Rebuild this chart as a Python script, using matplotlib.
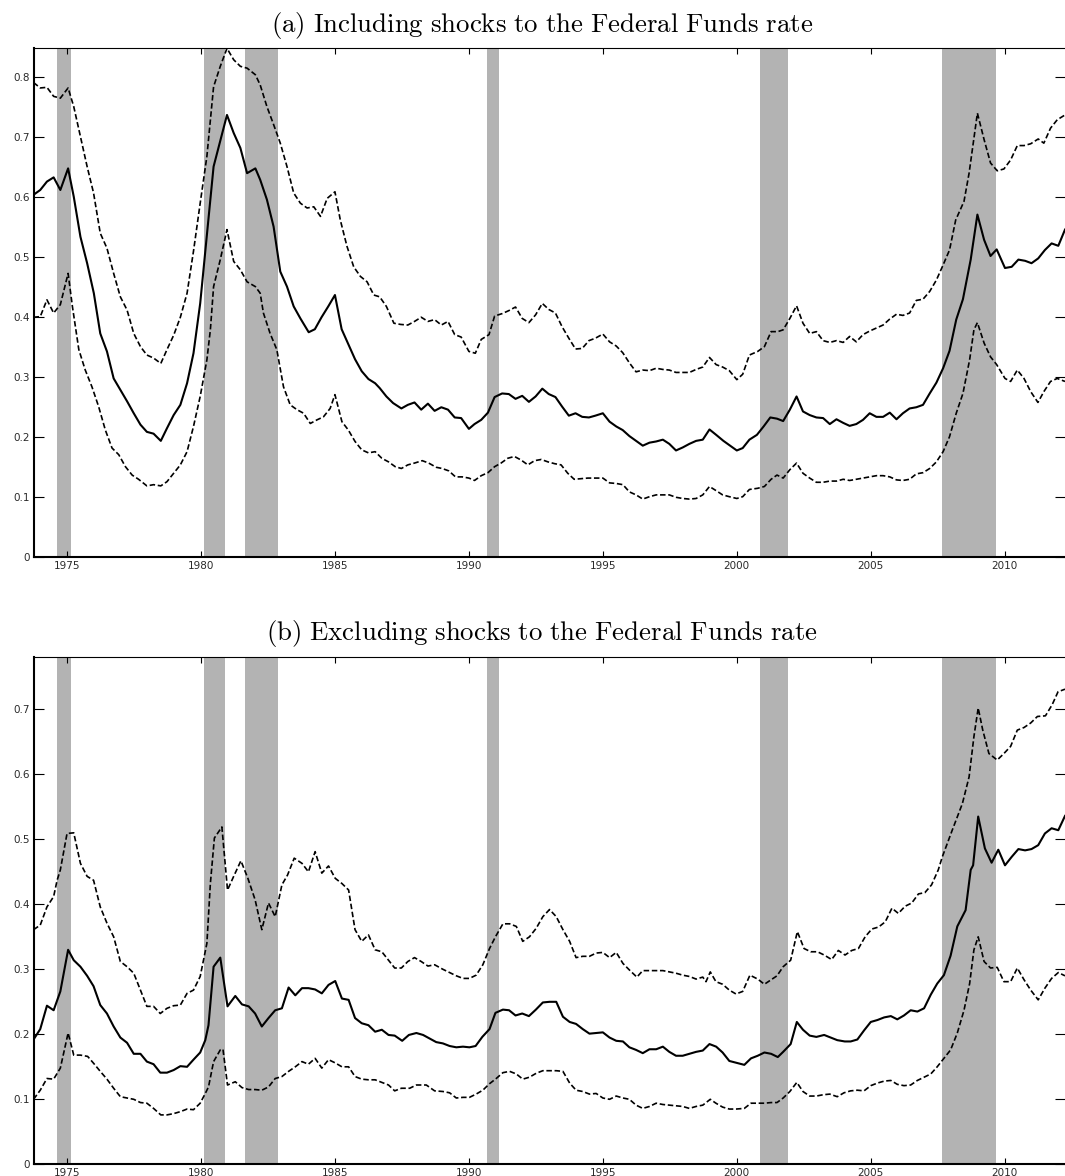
import numpy as np
import matplotlib
matplotlib.use("Agg")
import matplotlib.pyplot as plt

plt.rcParams['mathtext.fontset'] = 'cm'
plt.rcParams['font.family'] = ['DejaVu Sans']

# Recession periods (shaded)
rec_start = [1974.64, 1980.13, 1981.63, 1990.66, 2000.88, 2007.66]
rec_end = [1975.16, 1980.91, 1982.89, 1991.14, 2001.91, 2009.67]

# ---- Panel (a): including shocks to the Federal Funds rate ----
a_mid_t = [1973.75, 1974.0, 1974.25, 1974.5, 1974.75, 1975.04, 1975.25, 1975.5, 1975.75, 1976.0,
           1976.24, 1976.49, 1976.74, 1976.99, 1977.24, 1977.49, 1977.74, 1977.98, 1978.23, 1978.5,
           1978.73, 1978.98, 1979.23, 1979.48, 1979.72, 1979.97, 1980.47, 1980.97, 1981.22, 1981.47,
           1981.72, 1982.03, 1982.21, 1982.46, 1982.71, 1982.96, 1983.21, 1983.46, 1983.71, 1984.02,
           1984.25, 1984.5, 1984.75, 1985.0, 1985.25, 1985.5, 1985.75, 1986.0, 1986.25, 1986.5,
           1986.67, 1986.92, 1987.17, 1987.48, 1987.72, 1987.97, 1988.22, 1988.47, 1988.72, 1988.97,
           1989.22, 1989.47, 1989.71, 1990.0, 1990.21, 1990.46, 1990.71, 1990.96, 1991.24, 1991.49,
           1991.74, 1991.99, 1992.24, 1992.49, 1992.74, 1992.98, 1993.23, 1993.48, 1993.73, 1993.98,
           1994.23, 1994.48, 1994.72, 1995.0, 1995.25, 1995.5, 1995.74, 1995.99, 1996.24, 1996.49,
           1996.74, 1996.99, 1997.24, 1997.48, 1997.73, 1997.98, 1998.23, 1998.48, 1998.73, 1998.98,
           1999.23, 1999.5, 1999.75, 2000.0, 2000.22, 2000.47, 2000.75, 2001.0, 2001.25, 2001.5,
           2001.73, 2001.98, 2002.23, 2002.47, 2002.72, 2002.97, 2003.22, 2003.47, 2003.72, 2003.97,
           2004.21, 2004.46, 2004.71, 2004.96, 2005.21, 2005.46, 2005.71, 2005.96, 2006.2, 2006.45,
           2006.7, 2006.95, 2007.2, 2007.45, 2007.7, 2007.94, 2008.19, 2008.44, 2008.73, 2008.98,
           2009.23, 2009.47, 2009.7, 2010.01, 2010.26, 2010.51, 2010.76, 2011.0, 2011.25, 2011.5,
           2011.75, 2012.0, 2012.25]
a_mid_v = [0.604, 0.612, 0.626, 0.633, 0.612, 0.648, 0.601, 0.534, 0.49, 0.44,
           0.373, 0.343, 0.298, 0.279, 0.26, 0.24, 0.221, 0.209, 0.206, 0.194,
           0.215, 0.237, 0.254, 0.29, 0.34, 0.423, 0.651, 0.737, 0.707, 0.682,
           0.64, 0.648, 0.629, 0.596, 0.551, 0.476, 0.451, 0.418, 0.398, 0.375,
           0.38, 0.40, 0.418, 0.437, 0.38, 0.355, 0.33, 0.31, 0.297, 0.29,
           0.282, 0.268, 0.257, 0.248, 0.254, 0.258, 0.246, 0.256, 0.244, 0.25,
           0.246, 0.233, 0.232, 0.214, 0.222, 0.229, 0.241, 0.267, 0.273, 0.272,
           0.264, 0.269, 0.259, 0.268, 0.281, 0.272, 0.267, 0.251, 0.236, 0.24,
           0.234, 0.233, 0.236, 0.24, 0.226, 0.218, 0.212, 0.202, 0.194, 0.186,
           0.191, 0.193, 0.196, 0.189, 0.178, 0.183, 0.189, 0.194, 0.196, 0.213,
           0.204, 0.194, 0.186, 0.178, 0.182, 0.196, 0.204, 0.218, 0.233, 0.231,
           0.227, 0.246, 0.268, 0.243, 0.237, 0.233, 0.232, 0.222, 0.23, 0.224,
           0.219, 0.222, 0.229, 0.24, 0.234, 0.234, 0.241, 0.23, 0.24, 0.248,
           0.25, 0.254, 0.273, 0.291, 0.315, 0.344, 0.396, 0.43, 0.496, 0.571,
           0.529, 0.502, 0.513, 0.482, 0.484, 0.496, 0.494, 0.49, 0.498, 0.512,
           0.523, 0.519, 0.546]

a_hi_t = [1973.75, 1974.0, 1974.25, 1974.5, 1974.75, 1975.04, 1975.25, 1975.5, 1975.75, 1975.99,
          1976.24, 1976.49, 1976.74, 1976.99, 1977.24, 1977.49, 1977.74, 1977.98, 1978.23, 1978.5,
          1978.73, 1978.98, 1979.23, 1979.48, 1979.72, 1979.97, 1980.22, 1980.47, 1980.72, 1980.97,
          1981.22, 1981.47, 1981.72, 1982.03, 1982.21, 1982.46, 1982.71, 1982.96, 1983.21, 1983.46,
          1983.71, 1983.96, 1984.21, 1984.46, 1984.71, 1985.0, 1985.2, 1985.45, 1985.7, 1985.95,
          1986.2, 1986.45, 1986.67, 1986.92, 1987.2, 1987.45, 1987.72, 1987.97, 1988.22, 1988.47,
          1988.72, 1988.97, 1989.22, 1989.47, 1989.71, 1990.0, 1990.24, 1990.46, 1990.75, 1990.96,
          1991.24, 1991.49, 1991.74, 1991.99, 1992.24, 1992.49, 1992.74, 1992.98, 1993.23, 1993.48,
          1993.73, 1993.98, 1994.23, 1994.48, 1994.72, 1995.0, 1995.25, 1995.5, 1995.74, 1995.99,
          1996.24, 1996.49, 1996.74, 1996.99, 1997.24, 1997.48, 1997.73, 1997.98, 1998.23, 1998.48,
          1998.73, 1998.98, 1999.23, 1999.47, 1999.72, 2000.0, 2000.22, 2000.47, 2000.78, 2001.03,
          2001.28, 2001.53, 2001.73, 2001.98, 2002.23, 2002.47, 2002.72, 2002.97, 2003.22, 2003.47,
          2003.72, 2003.97, 2004.21, 2004.46, 2004.71, 2004.96, 2005.21, 2005.46, 2005.71, 2005.96,
          2006.2, 2006.45, 2006.7, 2006.95, 2007.2, 2007.45, 2007.67, 2007.94, 2008.17, 2008.48,
          2008.67, 2008.98, 2009.23, 2009.47, 2009.72, 2009.97, 2010.22, 2010.47, 2010.72, 2010.97,
          2011.25, 2011.46, 2011.71, 2011.96, 2012.25]
a_hi_v = [0.791, 0.782, 0.783, 0.768, 0.765, 0.782, 0.751, 0.701, 0.651, 0.607,
          0.54, 0.515, 0.473, 0.434, 0.412, 0.373, 0.351, 0.337, 0.332, 0.323,
          0.346, 0.37, 0.40, 0.44, 0.51, 0.59, 0.668, 0.784, 0.818, 0.848,
          0.829, 0.818, 0.815, 0.804, 0.787, 0.751, 0.721, 0.69, 0.651, 0.607,
          0.59, 0.582, 0.584, 0.568, 0.598, 0.609, 0.562, 0.518, 0.484, 0.468,
          0.459, 0.437, 0.434, 0.418, 0.39, 0.388, 0.387, 0.393, 0.4, 0.393,
          0.396, 0.387, 0.393, 0.371, 0.367, 0.343, 0.34, 0.363, 0.371, 0.402,
          0.406, 0.411, 0.417, 0.398, 0.391, 0.404, 0.423, 0.413, 0.407, 0.384,
          0.365, 0.347, 0.348, 0.361, 0.365, 0.372, 0.359, 0.352, 0.341, 0.324,
          0.309, 0.312, 0.311, 0.315, 0.313, 0.312, 0.308, 0.308, 0.308, 0.313,
          0.317, 0.333, 0.321, 0.317, 0.311, 0.296, 0.305, 0.337, 0.343, 0.351,
          0.376, 0.376, 0.379, 0.398, 0.419, 0.39, 0.373, 0.376, 0.361, 0.358,
          0.361, 0.358, 0.368, 0.359, 0.371, 0.377, 0.382, 0.387, 0.397, 0.405,
          0.403, 0.407, 0.428, 0.43, 0.443, 0.462, 0.484, 0.512, 0.562, 0.593,
          0.64, 0.74, 0.696, 0.657, 0.644, 0.647, 0.662, 0.686, 0.686, 0.689,
          0.697, 0.69, 0.715, 0.729, 0.737]

a_lo_t = [1973.75, 1974.0, 1974.25, 1974.5, 1974.75, 1975.04, 1975.2, 1975.44, 1975.68, 1975.93,
          1976.18, 1976.43, 1976.68, 1976.93, 1977.18, 1977.43, 1977.67, 1977.98, 1978.23, 1978.5,
          1978.73, 1978.98, 1979.23, 1979.48, 1979.72, 1979.97, 1980.22, 1980.35, 1980.47, 1980.72,
          1980.97, 1981.22, 1981.47, 1981.72, 1982.03, 1982.21, 1982.33, 1982.58, 1982.83, 1983.08,
          1983.33, 1983.58, 1983.83, 1984.08, 1984.33, 1984.57, 1984.82, 1985.0, 1985.26, 1985.5,
          1985.75, 1986.0, 1986.25, 1986.5, 1986.75, 1987.0, 1987.25, 1987.48, 1987.72, 1987.97,
          1988.26, 1988.5, 1988.78, 1989.0, 1989.25, 1989.5, 1989.75, 1990.0, 1990.21, 1990.46,
          1990.71, 1990.96, 1991.2, 1991.45, 1991.7, 1991.95, 1992.2, 1992.45, 1992.7, 1992.95,
          1993.2, 1993.44, 1993.69, 1993.93, 1994.18, 1994.44, 1994.75, 1995.0, 1995.25, 1995.5,
          1995.75, 1995.99, 1996.24, 1996.49, 1996.74, 1996.99, 1997.24, 1997.48, 1997.73, 1997.98,
          1998.23, 1998.48, 1998.73, 1998.98, 1999.23, 1999.47, 1999.72, 2000.0, 2000.22, 2000.47,
          2000.78, 2001.03, 2001.28, 2001.5, 2001.73, 2001.98, 2002.23, 2002.47, 2002.72, 2002.97,
          2003.22, 2003.47, 2003.72, 2003.97, 2004.21, 2004.46, 2004.71, 2004.96, 2005.21, 2005.46,
          2005.71, 2005.96, 2006.2, 2006.45, 2006.7, 2006.95, 2007.2, 2007.45, 2007.7, 2007.94,
          2008.19, 2008.44, 2008.69, 2008.85, 2008.98, 2009.23, 2009.47, 2009.7, 2010.01, 2010.22,
          2010.47, 2010.72, 2010.97, 2011.24, 2011.46, 2011.71, 2011.96, 2012.25]
a_lo_v = [0.4, 0.401, 0.429, 0.407, 0.421, 0.473, 0.418, 0.346, 0.312, 0.284,
          0.251, 0.212, 0.182, 0.171, 0.151, 0.137, 0.13, 0.119, 0.121, 0.119,
          0.126, 0.14, 0.154, 0.176, 0.218, 0.268, 0.329, 0.379, 0.451, 0.496,
          0.546, 0.493, 0.479, 0.459, 0.451, 0.44, 0.407, 0.373, 0.346, 0.284,
          0.254, 0.246, 0.24, 0.223, 0.229, 0.234, 0.248, 0.271, 0.226, 0.212,
          0.193, 0.179, 0.174, 0.176, 0.165, 0.159, 0.151, 0.148, 0.154, 0.157,
          0.161, 0.157, 0.15, 0.148, 0.144, 0.134, 0.134, 0.132, 0.128, 0.136,
          0.141, 0.151, 0.157, 0.165, 0.168, 0.162, 0.154, 0.161, 0.163, 0.159,
          0.156, 0.154, 0.14, 0.13, 0.131, 0.132, 0.132, 0.132, 0.124, 0.123,
          0.121, 0.109, 0.104, 0.097, 0.101, 0.104, 0.104, 0.104, 0.1, 0.098,
          0.097, 0.098, 0.104, 0.118, 0.111, 0.104, 0.101, 0.098, 0.101, 0.113,
          0.115, 0.118, 0.13, 0.137, 0.132, 0.146, 0.157, 0.14, 0.132, 0.125,
          0.125, 0.127, 0.127, 0.13, 0.128, 0.13, 0.132, 0.134, 0.136, 0.136,
          0.134, 0.129, 0.128, 0.13, 0.139, 0.141, 0.148, 0.159, 0.176, 0.201,
          0.24, 0.273, 0.329, 0.379, 0.391, 0.357, 0.334, 0.321, 0.298, 0.293,
          0.312, 0.298, 0.276, 0.258, 0.276, 0.293, 0.298, 0.293]

# ---- Panel (b): excluding shocks to the Federal Funds rate ----
b_mid_t = [1973.75, 1974.0, 1974.25, 1974.5, 1974.75, 1975.04, 1975.25, 1975.5, 1975.75, 1975.99,
           1976.24, 1976.49, 1976.74, 1976.99, 1977.24, 1977.49, 1977.74, 1977.98, 1978.23, 1978.48,
           1978.73, 1978.98, 1979.23, 1979.48, 1979.72, 1979.97, 1980.16, 1980.28, 1980.47, 1980.72,
           1980.99, 1981.28, 1981.53, 1981.78, 1982.02, 1982.27, 1982.52, 1982.77, 1983.02, 1983.27,
           1983.52, 1983.77, 1984.01, 1984.26, 1984.51, 1984.76, 1985.01, 1985.26, 1985.51, 1985.75,
           1986.0, 1986.25, 1986.5, 1986.75, 1987.0, 1987.23, 1987.51, 1987.76, 1988.04, 1988.29,
           1988.78, 1989.03, 1989.28, 1989.53, 1989.78, 1990.02, 1990.25, 1990.5, 1990.77, 1990.99,
           1991.27, 1991.5, 1991.74, 1991.99, 1992.24, 1992.5, 1992.76, 1993.01, 1993.26, 1993.51,
           1993.76, 1994.0, 1994.25, 1994.5, 1994.75, 1995.0, 1995.25, 1995.5, 1995.75, 1995.99,
           1996.24, 1996.49, 1996.74, 1996.99, 1997.24, 1997.48, 1997.73, 1997.98, 1998.23, 1998.48,
           1998.73, 1998.98, 1999.23, 1999.47, 1999.72, 2000.0, 2000.28, 2000.53, 2000.78, 2001.03,
           2001.28, 2001.53, 2001.73, 2002.01, 2002.24, 2002.47, 2002.72, 2002.97, 2003.26, 2003.5,
           2003.75, 2004.03, 2004.25, 2004.5, 2004.75, 2005.0, 2005.25, 2005.5, 2005.75, 2005.99,
           2006.24, 2006.49, 2006.74, 2006.99, 2007.24, 2007.48, 2007.73, 2007.98, 2008.23, 2008.54,
           2008.73, 2008.82, 2009.01, 2009.26, 2009.51, 2009.76, 2010.01, 2010.26, 2010.51, 2010.76,
           2011.0, 2011.25, 2011.5, 2011.75, 2012.0, 2012.25]
b_mid_v = [0.192, 0.208, 0.244, 0.237, 0.266, 0.33, 0.314, 0.304, 0.29, 0.274,
           0.245, 0.232, 0.212, 0.195, 0.187, 0.17, 0.17, 0.158, 0.154, 0.141,
           0.141, 0.145, 0.151, 0.15, 0.161, 0.172, 0.191, 0.214, 0.304, 0.318,
           0.243, 0.259, 0.246, 0.243, 0.232, 0.212, 0.225, 0.237, 0.24, 0.272,
           0.26, 0.271, 0.271, 0.269, 0.263, 0.276, 0.282, 0.255, 0.253, 0.225,
           0.217, 0.214, 0.204, 0.207, 0.199, 0.198, 0.19, 0.199, 0.202, 0.199,
           0.188, 0.186, 0.182, 0.18, 0.181, 0.18, 0.182, 0.196, 0.208, 0.233,
           0.238, 0.237, 0.229, 0.232, 0.228, 0.238, 0.249, 0.25, 0.25, 0.227,
           0.219, 0.216, 0.208, 0.201, 0.202, 0.203, 0.195, 0.19, 0.189, 0.18,
           0.176, 0.171, 0.177, 0.177, 0.181, 0.173, 0.167, 0.167, 0.17, 0.173,
           0.175, 0.185, 0.181, 0.172, 0.159, 0.156, 0.153, 0.163, 0.167, 0.172,
           0.17, 0.165, 0.173, 0.185, 0.219, 0.207, 0.198, 0.196, 0.199, 0.195,
           0.191, 0.189, 0.189, 0.192, 0.206, 0.219, 0.222, 0.226, 0.228, 0.223,
           0.229, 0.237, 0.235, 0.24, 0.261, 0.278, 0.291, 0.321, 0.366, 0.391,
           0.453, 0.46, 0.535, 0.486, 0.464, 0.484, 0.46, 0.473, 0.485, 0.483,
           0.485, 0.491, 0.509, 0.517, 0.514, 0.536]

b_hi_t = [1973.75, 1974.0, 1974.25, 1974.5, 1974.63, 1974.75, 1975.0, 1975.25, 1975.5, 1975.75,
          1975.99, 1976.24, 1976.49, 1976.74, 1976.99, 1977.24, 1977.49, 1977.74, 1977.98, 1978.23,
          1978.48, 1978.73, 1978.98, 1979.23, 1979.48, 1979.72, 1979.97, 1980.22, 1980.35, 1980.5,
          1980.78, 1980.99, 1981.22, 1981.49, 1981.75, 1982.02, 1982.27, 1982.52, 1982.77, 1983.02,
          1983.23, 1983.48, 1983.77, 1984.01, 1984.26, 1984.51, 1984.76, 1985.01, 1985.26, 1985.51,
          1985.75, 1986.0, 1986.25, 1986.5, 1986.75, 1987.0, 1987.23, 1987.48, 1987.72, 1987.97,
          1988.22, 1988.47, 1988.72, 1989.03, 1989.28, 1989.53, 1989.78, 1990.02, 1990.27, 1990.52,
          1990.77, 1990.99, 1991.27, 1991.52, 1991.77, 1992.01, 1992.26, 1992.51, 1992.76, 1993.01,
          1993.26, 1993.51, 1993.76, 1994.0, 1994.25, 1994.5, 1994.75, 1995.0, 1995.25, 1995.5,
          1995.75, 1995.99, 1996.27, 1996.49, 1996.74, 1996.99, 1997.24, 1997.48, 1997.73, 1997.98,
          1998.23, 1998.48, 1998.73, 1998.85, 1999.01, 1999.22, 1999.47, 1999.72, 1999.97, 2000.22,
          2000.49, 2000.78, 2001.03, 2001.28, 2001.5, 2001.73, 2002.01, 2002.26, 2002.51, 2002.76,
          2003.01, 2003.26, 2003.54, 2003.79, 2004.04, 2004.29, 2004.54, 2004.79, 2005.04, 2005.29,
          2005.54, 2005.79, 2006.03, 2006.28, 2006.53, 2006.78, 2007.02, 2007.27, 2007.52, 2007.67,
          2008.04, 2008.42, 2008.67, 2008.85, 2009.01, 2009.18, 2009.41, 2009.72, 2009.97, 2010.22,
          2010.47, 2010.72, 2010.97, 2011.22, 2011.52, 2011.77, 2011.99, 2012.25]
b_hi_v = [0.361, 0.368, 0.396, 0.412, 0.437, 0.453, 0.509, 0.51, 0.463, 0.443,
          0.437, 0.396, 0.371, 0.35, 0.312, 0.304, 0.294, 0.268, 0.243, 0.243,
          0.232, 0.24, 0.244, 0.245, 0.263, 0.268, 0.289, 0.34, 0.432, 0.502,
          0.519, 0.422, 0.443, 0.467, 0.44, 0.407, 0.361, 0.402, 0.381, 0.43,
          0.445, 0.471, 0.463, 0.45, 0.481, 0.448, 0.459, 0.44, 0.432, 0.422,
          0.361, 0.343, 0.353, 0.33, 0.327, 0.314, 0.302, 0.302, 0.312, 0.318,
          0.312, 0.305, 0.307, 0.3, 0.295, 0.29, 0.286, 0.286, 0.291, 0.307,
          0.332, 0.35, 0.37, 0.37, 0.366, 0.343, 0.35, 0.363, 0.381, 0.392,
          0.381, 0.361, 0.343, 0.318, 0.32, 0.32, 0.325, 0.326, 0.318, 0.326,
          0.309, 0.299, 0.288, 0.298, 0.298, 0.298, 0.298, 0.296, 0.294, 0.291,
          0.289, 0.285, 0.288, 0.281, 0.296, 0.281, 0.277, 0.268, 0.262, 0.266,
          0.291, 0.285, 0.277, 0.284, 0.29, 0.304, 0.314, 0.358, 0.332, 0.327,
          0.327, 0.322, 0.315, 0.329, 0.322, 0.329, 0.332, 0.35, 0.362, 0.365,
          0.373, 0.394, 0.386, 0.397, 0.402, 0.416, 0.418, 0.43, 0.453, 0.473,
          0.514, 0.555, 0.596, 0.658, 0.702, 0.668, 0.632, 0.622, 0.632, 0.643,
          0.668, 0.672, 0.679, 0.689, 0.69, 0.707, 0.727, 0.731]

b_lo_t = [1973.75, 1974.0, 1974.25, 1974.5, 1974.75, 1975.04, 1975.25, 1975.5, 1975.77, 1976.0,
          1976.24, 1976.49, 1976.74, 1976.99, 1977.24, 1977.49, 1977.74, 1977.98, 1978.23, 1978.5,
          1978.73, 1978.98, 1979.23, 1979.48, 1979.72, 1979.97, 1980.16, 1980.28, 1980.47, 1980.72,
          1980.82, 1980.99, 1981.28, 1981.53, 1981.78, 1982.02, 1982.27, 1982.52, 1982.77, 1983.02,
          1983.27, 1983.52, 1983.77, 1984.01, 1984.26, 1984.51, 1984.76, 1985.01, 1985.26, 1985.51,
          1985.75, 1986.0, 1986.25, 1986.5, 1986.75, 1987.0, 1987.23, 1987.48, 1987.79, 1988.04,
          1988.41, 1988.72, 1989.03, 1989.28, 1989.53, 1989.78, 1990.02, 1990.27, 1990.52, 1990.77,
          1991.02, 1991.27, 1991.52, 1991.77, 1992.01, 1992.26, 1992.51, 1992.76, 1993.01, 1993.26,
          1993.51, 1993.76, 1994.0, 1994.25, 1994.5, 1994.75, 1995.0, 1995.25, 1995.5, 1995.75,
          1995.99, 1996.24, 1996.49, 1996.74, 1996.99, 1997.24, 1997.48, 1997.73, 1997.98, 1998.23,
          1998.48, 1998.73, 1999.01, 1999.22, 1999.47, 1999.72, 1999.97, 2000.28, 2000.53, 2000.78,
          2001.03, 2001.28, 2001.5, 2001.73, 2001.98, 2002.24, 2002.47, 2002.72, 2002.97, 2003.22,
          2003.47, 2003.75, 2004.0, 2004.25, 2004.5, 2004.75, 2005.0, 2005.25, 2005.5, 2005.75,
          2005.99, 2006.24, 2006.49, 2006.74, 2006.99, 2007.24, 2007.48, 2007.73, 2007.98, 2008.23,
          2008.48, 2008.69, 2008.85, 2009.01, 2009.23, 2009.47, 2009.72, 2009.97, 2010.22, 2010.47,
          2010.72, 2010.97, 2011.25, 2011.5, 2011.75, 2012.0, 2012.25]
b_lo_v = [0.1, 0.114, 0.132, 0.131, 0.148, 0.202, 0.168, 0.168, 0.166, 0.155,
          0.143, 0.131, 0.117, 0.104, 0.102, 0.1, 0.095, 0.094, 0.086, 0.076,
          0.076, 0.078, 0.081, 0.085, 0.084, 0.094, 0.109, 0.119, 0.158, 0.176,
          0.177, 0.122, 0.127, 0.118, 0.115, 0.115, 0.114, 0.119, 0.132, 0.135,
          0.143, 0.15, 0.158, 0.154, 0.163, 0.148, 0.161, 0.156, 0.15, 0.15,
          0.135, 0.131, 0.13, 0.13, 0.126, 0.122, 0.113, 0.117, 0.117, 0.122,
          0.122, 0.113, 0.112, 0.11, 0.102, 0.103, 0.103, 0.108, 0.114, 0.124,
          0.132, 0.141, 0.143, 0.139, 0.131, 0.134, 0.14, 0.144, 0.144, 0.144,
          0.143, 0.125, 0.114, 0.112, 0.108, 0.109, 0.102, 0.1, 0.105, 0.102,
          0.1, 0.091, 0.086, 0.089, 0.094, 0.092, 0.091, 0.09, 0.089, 0.086,
          0.089, 0.091, 0.1, 0.094, 0.088, 0.085, 0.085, 0.086, 0.094, 0.094,
          0.094, 0.095, 0.095, 0.102, 0.112, 0.126, 0.112, 0.105, 0.105, 0.107,
          0.108, 0.104, 0.11, 0.113, 0.114, 0.113, 0.121, 0.125, 0.128, 0.129,
          0.123, 0.121, 0.122, 0.129, 0.134, 0.139, 0.15, 0.163, 0.176, 0.202,
          0.237, 0.278, 0.33, 0.35, 0.312, 0.302, 0.303, 0.281, 0.281, 0.302,
          0.284, 0.268, 0.253, 0.271, 0.286, 0.295, 0.29]

years = [1975, 1980, 1985, 1990, 1995, 2000, 2005, 2010]
a_yticks = [0, 0.1, 0.2, 0.3, 0.4, 0.5, 0.6, 0.7, 0.8]
b_yticks = [0, 0.1, 0.2, 0.3, 0.4, 0.5, 0.6, 0.7]

dash = (0, (3.3, 1.6))


def draw_panel(ax, mid, hi, lo, yticks, ymax):
    for s, e in zip(rec_start, rec_end):
        ax.axvspan(s, e, color='#b3b3b3', lw=0, zorder=1)
    ax.plot(hi[0], hi[1], color='black', lw=1.2, linestyle=dash, zorder=3)
    ax.plot(lo[0], lo[1], color='black', lw=1.2, linestyle=dash, zorder=3)
    ax.plot(mid[0], mid[1], color='black', lw=1.5, zorder=4)
    ax.set_xlim(1973.75, 2012.25)
    ax.set_ylim(0, ymax)
    ax.set_xticks(years)
    ax.set_xticklabels([str(y) for y in years])
    ax.set_yticks(yticks)
    ax.set_yticklabels(['0'] + ['%.1f' % v for v in yticks[1:]])
    ax.tick_params(axis='both', direction='in', top=True, right=True,
                   labelsize=7.5, labelcolor='#2a2a2a', width=0.8)
    ax.tick_params(axis='x', length=4.5, pad=2.5)
    ax.tick_params(axis='y', length=7, pad=2.5)
    ax.spines['left'].set_linewidth(1.5)
    ax.spines['bottom'].set_linewidth(1.5)
    ax.spines['top'].set_linewidth(0.8)
    ax.spines['right'].set_visible(False)


fig = plt.figure(figsize=(10.65, 11.76), dpi=100)
ax1 = fig.add_axes([0.0315, 0.5261, 0.9685, 0.4328])
ax2 = fig.add_axes([0.0315, 0.00995, 0.9685, 0.4311])

draw_panel(ax1, (a_mid_t, a_mid_v), (a_hi_t, a_hi_v), (a_lo_t, a_lo_v), a_yticks, 0.848)
draw_panel(ax2, (b_mid_t, b_mid_v), (b_hi_t, b_hi_v), (b_lo_t, b_lo_v), b_yticks, 0.78)

fig.text(0.509, 0.973, r'$\mathrm{(a)\ Including\ shocks\ to\ the\ Federal\ Funds\ rate}$',
         ha='center', va='baseline', fontsize=19.3)
fig.text(0.509, 0.4558, r'$\mathrm{(b)\ Excluding\ shocks\ to\ the\ Federal\ Funds\ rate}$',
         ha='center', va='baseline', fontsize=19.3)

fig.savefig('out.png', dpi=100)
